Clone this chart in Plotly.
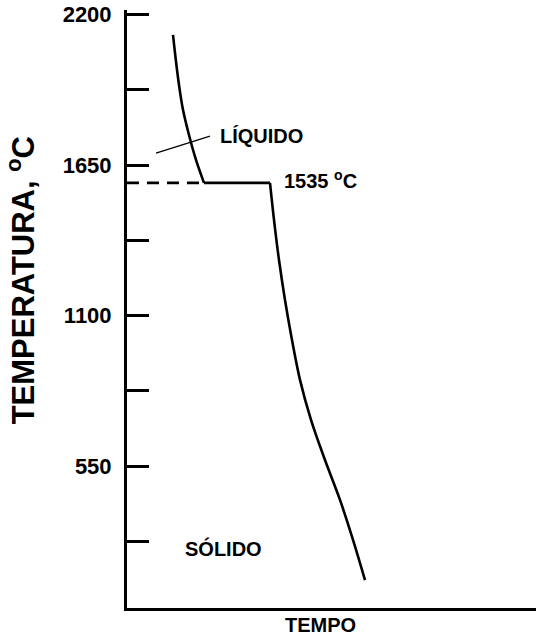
import plotly.graph_objects as go

# Cooling curve (time in arbitrary units, temperature in °C)
liquid_time = [46, 49, 52, 56, 62, 69, 77]
liquid_temp = [2126, 2029, 1943, 1852, 1760, 1669, 1585]

plateau_time = [77, 143]
plateau_temp = [1585, 1585]

solid_time = [143, 147, 152, 158, 165, 173, 184, 198, 213, 226, 238]
solid_temp = [1585, 1450, 1303, 1157, 1011, 865, 719, 572, 426, 280, 133]

dash_time = [0, 77]
dash_temp = [1585, 1585]

leader_time = [29, 83]
leader_temp = [1694, 1756]

tick_vals = [550, 1100, 1650, 2200]
tick_text = ["550", "1100", "1650", "2200"]
minor_step = 275

FONT = "Liberation Sans, Arial, sans-serif"

fig = go.Figure()
line_style = dict(color="black", width=2.6, shape="spline", smoothing=1.0)
fig.add_trace(go.Scatter(x=liquid_time, y=liquid_temp, mode="lines", line=line_style, hoverinfo="skip"))
fig.add_trace(go.Scatter(x=plateau_time, y=plateau_temp, mode="lines",
                         line=dict(color="black", width=2.6), hoverinfo="skip"))
fig.add_trace(go.Scatter(x=solid_time, y=solid_temp, mode="lines", line=line_style, hoverinfo="skip"))
fig.add_trace(go.Scatter(x=dash_time, y=dash_temp, mode="lines",
                         line=dict(color="black", width=2.8, dash="12px,8px"), hoverinfo="skip"))
fig.add_trace(go.Scatter(x=leader_time, y=leader_temp, mode="lines",
                         line=dict(color="black", width=1.2), hoverinfo="skip"))

ann_font = dict(family=FONT, size=20, color="black", weight="bold")
fig.add_annotation(x=91, y=1756, xref="x", yref="y", text="LÍQUIDO", showarrow=False,
                   xanchor="left", yanchor="middle", font=ann_font)
fig.add_annotation(x=155, y=1599, xref="x", yref="y", text="1535 <sup>o</sup>C", showarrow=False,
                   xanchor="left", yanchor="middle", font=ann_font)
fig.add_annotation(x=56, y=250, xref="x", yref="y", text="SÓLIDO", showarrow=False,
                   xanchor="left", yanchor="middle", font=ann_font)
fig.add_annotation(x=193, y=0, xref="x", yref="paper", text="TEMPO", showarrow=False,
                   xanchor="center", yanchor="top", yshift=-4, font=ann_font)
fig.add_annotation(x=-0.259, y=0.548, xref="paper", yref="paper", text="TEMPERATURA, <sup>o</sup>C",
                   showarrow=False, textangle=-90, xanchor="center", yanchor="middle",
                   font=dict(family=FONT, size=31, color="black", weight="bold"))

fig.update_layout(
    width=536, height=637,
    margin=dict(l=127, r=0, t=10, b=29),
    paper_bgcolor="white", plot_bgcolor="white",
    showlegend=False,
)
fig.update_xaxes(range=[0, 409], showgrid=False, zeroline=False, showticklabels=False,
                 ticks="", showline=True, linecolor="black", linewidth=3, fixedrange=True)
fig.update_yaxes(range=[31, 2217], showgrid=False, zeroline=False,
                 tickmode="array", tickvals=tick_vals, ticktext=tick_text,
                 ticks="inside", ticklen=22, tickwidth=3, tickcolor="black",
                 minor=dict(tick0=0, dtick=minor_step, ticks="inside", ticklen=22,
                            tickwidth=3, tickcolor="black", showgrid=False),
                 ticklabelstandoff=8,
                 tickfont=dict(family=FONT, size=22, color="black", weight="bold"),
                 showline=True, linecolor="black", linewidth=3, fixedrange=True)

fig.write_html("out.html", config={"displayModeBar": False},
               post_script="document.body.style.margin='0';document.body.style.overflow='hidden';")
